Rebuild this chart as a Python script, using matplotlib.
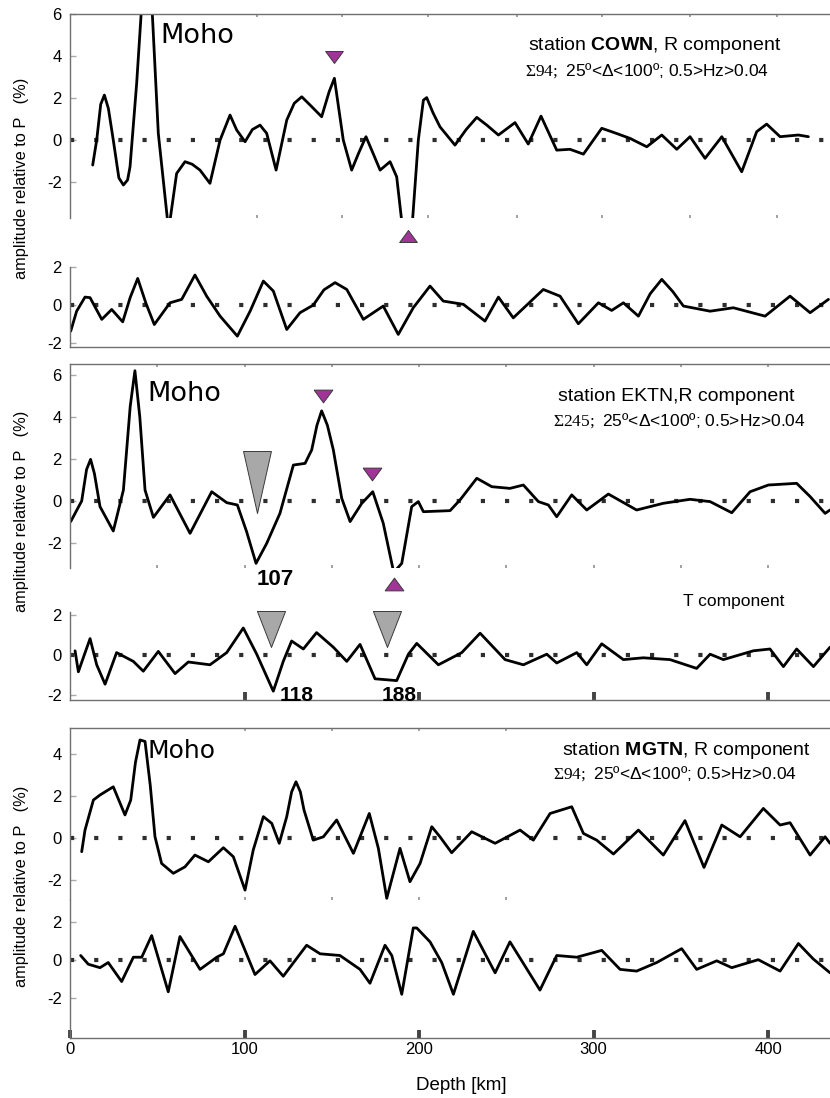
import matplotlib
matplotlib.use("Agg")
import matplotlib.pyplot as plt

plt.rcParams['font.family'] = ['Liberation Sans', 'DejaVu Sans']
plt.rcParams['axes.unicode_minus'] = False
plt.rcParams['mathtext.fontset'] = 'custom'
plt.rcParams['mathtext.rm'] = 'Liberation Sans'
plt.rcParams['mathtext.bf'] = 'Liberation Sans:bold'
plt.rcParams['mathtext.sf'] = 'Liberation Serif'

# ---- data (depth in km, amplitude in % relative to P) ----
cown_r_depth = [13.0, 15.3, 17.6, 19.7, 22.0, 24.8, 28.0, 30.6, 33.0, 34.4, 38.2, 41.0, 44.0, 47.0,
                50.6, 56.5, 61.1, 65.9, 70.0, 74.5, 80.2, 86.0, 91.7,
                95.5, 100.3, 104.5, 108.9, 112.7, 118.1, 124.2, 128.5, 132.8, 138.5, 144.2, 148.5, 151.5,
                156.6, 161.4, 165.5, 169.6, 173.5, 177.7, 183.4, 187.2, 190.0, 192.8, 196.3, 199.6,
                202.5, 204.4, 208.0, 212.0, 220.6, 227.0, 233.1, 239.0, 245.5, 255.0, 262.6, 269.9, 278.9,
                286.5, 294.2, 304.7, 312.0, 320.9, 330.5, 339.1, 347.7, 355.3, 363.9, 373.5,
                384.9, 393.5, 399.2, 406.9, 417.4, 423.1]
cown_r_amp = [-1.19, 0.0, 1.7, 2.14, 1.5, 0.0, -1.8, -2.14, -1.9, -1.27, 2.70, 6.3, 7.2, 6.3,
              0.32, -4.3, -1.59, -1.03, -1.15, -1.43, -2.06, 0.0, 1.19,
              0.48, -0.08, 0.5, 0.71, 0.32, -1.43, 0.95, 1.75, 2.06, 1.59, 1.11, 2.3, 2.94,
              0.0, -1.43, -0.6, 0.16, -0.6, -1.43, -1.03, -1.75, -3.8, -4.6, -3.8, 0.0,
              1.9, 2.02, 1.3, 0.63, -0.24, 0.5, 1.08, 0.7, 0.24, 0.83, -0.19, 1.14, -0.48,
              -0.44, -0.67, 0.56, 0.35, 0.08, -0.32, 0.24, -0.44, 0.16, -0.87, 0.16,
              -1.51, 0.40, 0.76, 0.16, 0.24, 0.16]

cown_t_depth = [0.4, 3.8, 8.6, 11.5, 18.2, 23.9, 30.2, 34.5, 38.8, 43.5, 48.3, 57.3,
                64.0, 71.6, 78.3, 86.0, 95.9, 103.2, 110.8, 116.5, 124.2, 131.8,
                139.4, 145.5, 151.9, 158.6, 168.1, 179.5, 188.1, 196.7, 206.3, 213.9, 225.4,
                237.8, 245.5, 254.0, 271.2, 280.8, 291.3, 302.8, 310.4, 317.1, 325.7,
                332.5, 339.1, 345.5, 351.5, 366.8, 380.1, 398.3, 412.6, 424.1, 434.6]
cown_t_amp = [-1.37, -0.32, 0.42, 0.39, -0.75, -0.23, -0.88, 0.4, 1.40, 0.1, -1.02, 0.12,
              0.30, 1.58, 0.47, -0.58, -1.63, -0.32, 1.26, 0.74, -1.28, -0.40,
              0.0, 0.8, 1.18, 0.82, -0.75, -0.05, -1.54, -0.14, 1.0, 0.21, 0.04,
              -0.84, 0.42, -0.67, 0.82, 0.47, -0.98, 0.12, -0.28, 0.12, -0.58,
              0.6, 1.35, 0.7, -0.05, -0.32, -0.14, -0.58, 0.47, -0.40, 0.30]

ektn_r_depth = [0.4, 6.7, 9.5, 11.8, 14.0, 17.2, 24.8, 30.6, 34.5, 37.2, 40.0, 43.0, 47.8, 57.3,
                68.8, 81.2, 89.8, 95.9, 101.2, 106.6, 112.7, 120.3, 128.0, 134.7,
                138.5, 141.5, 144.2, 147.5, 150.9, 155.7, 160.5, 167.2, 173.5, 179.5, 185.5, 190.1,
                195.8, 199.6, 202.5, 217.8, 223.5, 233.1, 241.7, 252.1, 259.8, 268.4,
                274.1, 278.9, 287.5, 296.1, 308.5, 324.7, 340.0, 355.3, 366.8, 379.2,
                389.7, 400.2, 416.4, 424.1, 432.7, 435.5]
ektn_r_amp = [-0.98, 0.0, 1.5, 1.98, 1.3, -0.27, -1.43, 0.52, 4.5, 6.2, 4.0, 0.52, -0.78, 0.29,
              -1.54, 0.44, -0.08, -0.19, -1.46, -2.97, -2.02, -0.59, 1.71, 1.79,
              2.43, 3.6, 4.29, 3.6, 2.43, 0.13, -0.98, -0.11, 0.44, -1.06, -3.4, -2.97,
              -0.27, -0.03, -0.51, -0.46, 0.05, 1.08, 0.68, 0.60, 0.76, -0.03,
              -0.19, -0.75, 0.29, -0.43, 0.33, -0.43, -0.11, 0.08, -0.03, -0.56,
              0.44, 0.76, 0.84, 0.21, -0.59, -0.43]

ektn_t_depth = [2.9, 4.8, 7.6, 11.5, 15.3, 20.1, 26.7, 36.3, 42.0, 50.6,
                60.2, 67.8, 80.2, 89.8, 99.3, 107.0, 116.5, 122.2, 127.0, 133.7,
                141.3, 150.9, 158.6, 166.2, 174.8, 187.2, 193.9, 198.7, 211.1, 224.5,
                235.0, 249.3, 259.8, 273.2, 278.9, 290.4, 296.1, 304.7, 317.1, 328.5,
                343.8, 359.1, 366.8, 374.4, 391.6, 401.1, 408.8, 416.4, 426.0, 435.5]
ektn_t_amp = [0.21, -0.84, -0.14, 0.82, -0.49, -1.46, 0.12, -0.32, -0.81, 0.18,
              -0.93, -0.35, -0.49, 0.12, 1.35, 0.04, -1.81, -0.32, 0.70, 0.30,
              1.12, 0.39, -0.32, 0.53, -1.19, -1.28, 0.04, 0.58, -0.49, 0.12,
              1.09, -0.23, -0.49, 0.04, -0.40, 0.12, -0.49, 0.56, -0.23, -0.14,
              -0.23, -0.67, 0.04, -0.23, 0.21, 0.30, -0.58, 0.30, -0.58, 0.39]

mgtn_r_depth = [6.7, 8.6, 13.4, 17.2, 24.8, 31.5, 34.8, 37.5, 40.1, 43.0, 46.0, 48.7,
                52.5, 59.2, 65.9, 71.6, 79.3, 87.9, 93.6, 100.3, 105.0, 110.8,
                115.6, 119.9, 124.2, 127.0, 129.5, 132.0, 134.1, 139.4, 145.2, 152.8, 162.4, 171.5,
                176.7, 181.5, 189.1, 194.8, 200.6, 207.3, 212.0, 218.7, 230.2, 243.6,
                257.9, 265.5, 275.1, 287.5, 294.2, 301.8, 311.4, 325.7, 340.0, 352.4,
                363.3, 373.5, 384.0, 397.3, 406.9, 412.6, 424.1, 432.7, 435.5]
mgtn_r_amp = [-0.65, 0.38, 1.81, 2.05, 2.44, 1.10, 1.81, 3.6, 4.67, 4.6, 2.5, 0.06,
              -1.21, -1.68, -1.37, -0.81, -1.13, -0.46, -0.89, -2.48, -0.57, 1.02,
              0.70, -0.25, 1.02, 2.2, 2.68, 2.2, 1.33, -0.10, 0.06, 0.86, -0.73, 1.17,
              -0.49, -2.87, -0.49, -2.08, -1.21, 0.54, 0.06, -0.70, 0.30, -0.25,
              0.38, -0.10, 1.17, 1.49, 0.22, -0.10, -0.76, 0.38, -0.81, 0.83,
              -1.40, 0.62, 0.06, 1.41, 0.62, 0.73, -0.81, 0.06, -0.25]

mgtn_t_depth = [6.1, 10.5, 17.2, 21.9, 29.6, 36.3, 41.1, 46.8, 56.3, 63.0,
                74.5, 84.1, 87.9, 94.6, 106.0, 114.6, 122.2, 135.6, 143.3, 154.7,
                166.2, 171.9, 180.5, 184.4, 190.1, 196.7, 198.7, 206.3, 213.0, 219.7,
                231.1, 243.6, 252.1, 269.3, 278.9, 290.4, 304.7, 315.2, 324.7, 336.2,
                350.5, 359.1, 370.6, 379.2, 394.4, 406.9, 417.4, 426.0, 435.5]
mgtn_t_amp = [0.24, -0.22, -0.40, -0.13, -1.13, 0.15, 0.15, 1.29, -1.67, 1.24,
              -0.49, 0.15, 0.33, 1.78, -0.76, -0.04, -0.85, 0.78, 0.33, 0.24,
              -0.49, -1.22, 0.78, 0.24, -1.8, 1.69, 1.69, 0.96, -0.13, -1.8,
              1.51, -0.67, 0.96, -1.58, 0.24, 0.15, 0.51, -0.49, -0.58, -0.13,
              0.60, -0.49, -0.04, -0.40, 0.02, -0.58, 0.87, 0.05, -0.67]

# picked phases (depth, amplitude position of the marker)
cown_down_marks = [(151.3, 3.94)]
cown_up_marks = [(193.9, -4.59)]
ektn_down_marks = [(144.8, 5.01), (172.9, 1.27)]
ektn_up_marks = [(185.5, -3.95)]
ektn_r_gray = [(107.0, 0.90)]
ektn_t_gray = [(115.2, 1.32), (181.8, 1.32)]
depth_ticks = [0, 100, 200, 300, 400]

W, H = 830, 1098
fig = plt.figure(figsize=(W / 100, H / 100), dpi=100)


def add_ax(x0, y0, x1, y1):
    return fig.add_axes([x0 / W, 1 - y1 / H, (x1 - x0) / W, (y1 - y0) / H])


def style(ax, ylim, yticks, spines, dots=None):
    ax.set_xlim(0, 435.5)
    ax.set_ylim(*ylim)
    for name, sp in ax.spines.items():
        sp.set_visible(name in spines)
        sp.set_color('#707070')
        sp.set_linewidth(1.0)
    ax.set_yticks(yticks)
    ax.set_yticklabels([str(t) for t in yticks])
    ax.tick_params(axis='y', direction='in', length=4, width=1, color='#aaaaaa',
                   labelsize=12, pad=6)
    ax.set_xticks([])
    if dots is not None:
        ax.set_xticks(dots, minor=True)
        ax.tick_params(axis='x', which='minor', top=True, bottom=True, direction='in',
                       length=2, width=1.3, color='#9a9a9a')
    ax.axhline(0, color='#2e2e2e', lw=3.0, dashes=(1, 4.8), dash_capstyle='butt')


def trace(ax, d, a):
    ax.plot(d, a, color='black', lw=2.0, solid_joinstyle='round', solid_capstyle='round')


small_down = [(-1, 0.68), (1, 0.68), (0, -0.68), (-1, 0.68)]
small_up = [(-1, -0.68), (1, -0.68), (0, 0.68), (-1, -0.68)]
big_down = [(-0.45, 1), (0.45, 1), (0, -1), (-0.45, 1)]
mid_down = [(-0.78, 1), (0.78, 1), (0, -1), (-0.78, 1)]
magenta = '#A03597'


def marks(ax, pts, shape, size, color):
    for x, y in pts:
        ax.plot([x], [y], marker=shape, markersize=size, color=color,
                markeredgecolor='#3a3a3a', markeredgewidth=0.7, clip_on=False,
                linestyle='none', zorder=5)


dots_a = [107, 156, 205, 256, 305, 355, 405]
dots_b = [50, 100, 150, 200, 250, 300, 350, 400]

# ---- panel 1: COWN ----
a1 = add_ax(70, 14, 830, 218)
style(a1, (-3.71, 6.0), [6, 4, 2, 0, -2], ['top', 'left'], dots_a)
trace(a1, cown_r_depth, cown_r_amp)
marks(a1, cown_down_marks, small_down, 12.7, magenta)
marks(a1, cown_up_marks, small_up, 12.7, magenta)

b1 = add_ax(70, 267, 830, 347)
style(b1, (-2.2, 1.9), [2, 0, -2], ['left', 'bottom'])
trace(b1, cown_t_depth, cown_t_amp)

# ---- panel 2: EKTN ----
a2 = add_ax(70, 364, 830, 568)
style(a2, (-3.19, 6.52), [6, 4, 2, 0, -2], ['top', 'left'], dots_b)
trace(a2, ektn_r_depth, ektn_r_amp)
marks(a2, ektn_r_gray, big_down, 44.6, '#a8a8a8')
marks(a2, ektn_down_marks, small_down, 13.5, magenta)
marks(a2, ektn_up_marks, small_up, 13.5, magenta)

b2 = add_ax(70, 612, 830, 700)
style(b2, (-2.25, 2.15), [2, 0, -2], ['left', 'bottom'])
trace(b2, ektn_t_depth, ektn_t_amp)
b2.set_xticks(depth_ticks[1:])
b2.set_xticklabels([])
b2.tick_params(axis='x', direction='in', length=6, width=2.8, color='#444444')
marks(b2, ektn_t_gray, mid_down, 25.9, '#a8a8a8')

# ---- panel 3: MGTN ----
a3 = add_ax(70, 728, 830, 900)
style(a3, (-2.95, 5.24), [4, 2, 0, -2], ['top', 'left'], [100, 150, 200, 250])
trace(a3, mgtn_r_depth, mgtn_r_amp)

b3 = add_ax(70, 900, 830, 1038)
style(b3, (-4.1, 3.16), [2, 0, -2], ['left', 'bottom'])
trace(b3, mgtn_t_depth, mgtn_t_amp)
b3.set_xticks(depth_ticks)
b3.set_xticklabels([str(t) for t in depth_ticks])
b3.tick_params(axis='x', direction='in', length=6, width=2.8, color='#444444',
               labelsize=12, pad=3)


def ftext(x, y, s, **kw):
    return fig.text(x / W, 1 - y / H, s, **kw)


# annotations
for x, y, size in [(160, 43, 19.5), (147, 401, 19.5), (147, 758, 18)]:
    ftext(x, y, 'Moho', fontsize=size, family='DejaVu Sans', va='baseline')

ftext(528, 50, r'station $\mathbf{COWN}$, R component', fontsize=14, va='baseline')
ftext(525, 76, r'$\mathsf{Σ94;}$ 25º<Δ<100º; 0.5>Hz>0.04', fontsize=12.5, va='baseline')
ftext(558, 401, 'station EKTN,R component', fontsize=14, va='baseline')
ftext(553, 426, r'$\mathsf{Σ245;}$ 25º<Δ<100º; 0.5>Hz>0.04', fontsize=12.5, va='baseline')
ftext(683, 606, 'T component', fontsize=12.5, va='baseline')
ftext(562, 755, r'station $\mathbf{MGTN}$, R component', fontsize=14, va='baseline')
ftext(553, 779, r'$\mathsf{Σ94;}$ 25º<Δ<100º; 0.5>Hz>0.04', fontsize=12.5, va='baseline')

ftext(257, 585, '107', fontsize=16, fontweight='bold', va='baseline')
ftext(280, 701, '118', fontsize=15, fontweight='bold', va='baseline')
ftext(382, 701, '188', fontsize=15, fontweight='bold', va='baseline')

for yc in [178, 511, 886]:
    ftext(22, yc, 'amplitude relative to P   (%)', fontsize=11.8, rotation=90,
          ha='center', va='center')

ftext(461, 1085, 'Depth [km]', fontsize=13.5, ha='center', va='center')

fig.savefig('out.png', dpi=100)
